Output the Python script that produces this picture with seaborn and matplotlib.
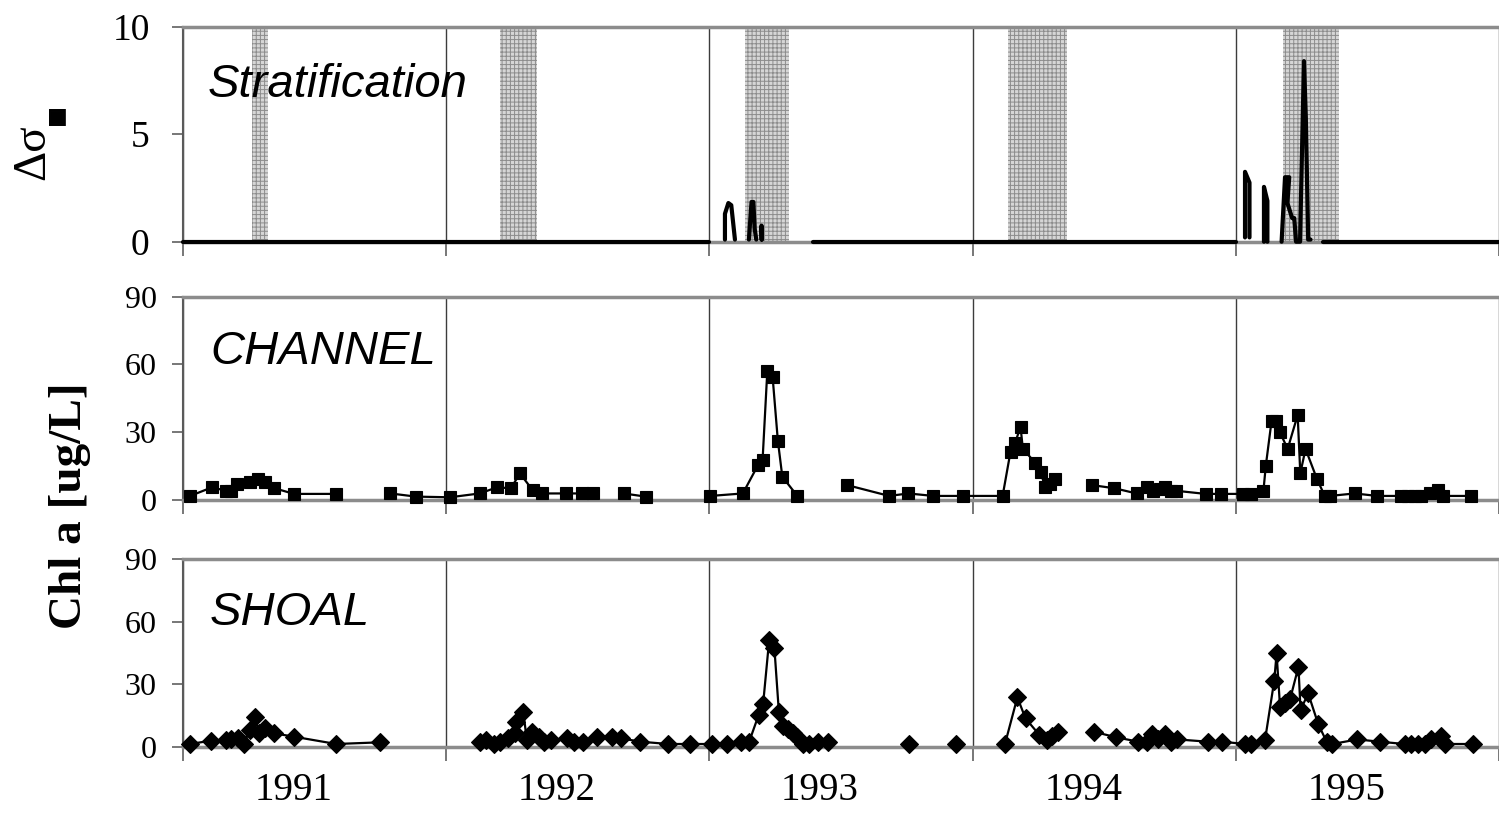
import numpy as np
import pandas as pd
import matplotlib
matplotlib.use("Agg")
import matplotlib.pyplot as plt
import seaborn as sns

sns.set_theme(style="ticks")
plt.rcParams['font.family'] = ['Liberation Serif', 'DejaVu Serif']
plt.rcParams['hatch.linewidth'] = 0.7
plt.rcParams['text.color'] = 'black'
plt.rcParams['xtick.labelcolor'] = 'black'
plt.rcParams['ytick.labelcolor'] = 'black'

NA = np.nan  # NA marks a break in a line

years = [1991, 1992, 1993, 1994, 1995]
year_labels = ["1991", "1992", "1993", "1994", "1995"]

# shaded stratification periods
band_start = [1991.261, 1992.205, 1993.135, 1994.136, 1995.180]
band_end = [1991.322, 1992.345, 1993.303, 1994.360, 1995.393]

# stratification (delta sigma)
strat_time = [1991.0, 1993.0, NA,
              1993.059, 1993.059, 1993.072, 1993.083, 1993.097, NA,
              1993.150, 1993.160, 1993.167, 1993.172, 1993.178, NA,
              1993.198, 1993.198, 1993.199, NA,
              1993.394, 1995.0, NA,
              1995.035, 1995.035, 1995.052, 1995.052, NA,
              1995.107, 1995.107, 1995.120, 1995.120, NA,
              1995.174, 1995.187, 1995.203, 1995.196, 1995.214, 1995.222, 1995.229,
              1995.244, 1995.259, 1995.266, 1995.275, 1995.284, NA,
              1995.333, 1996.0]
strat_dsig = [0, 0, NA,
              0.1, 1.3, 1.8, 1.7, 0.1, NA,
              0.1, 1.85, 1.85, 0.6, 0.1, NA,
              0.1, 0.75, 0.1, NA,
              0, 0, NA,
              0.2, 3.25, 2.75, 0.2, NA,
              0, 2.55, 1.9, 0, NA,
              0, 3.0, 3.0, 1.8, 1.1, 1.1, 0,
              0, 8.4, 5.8, 0.1, 0.1, NA,
              0, 0]

# chlorophyll a, channel station
channel_time = [1991.027, 1991.110, 1991.163, 1991.183, 1991.206, 1991.254, 1991.283, 1991.310,
                1991.347, 1991.422, 1991.582, NA,
                1991.788, 1991.885, 1992.014, 1992.127, 1992.193, 1992.246, 1992.280, 1992.328,
                1992.363, 1992.456, 1992.516, 1992.558, NA,
                1992.674, 1992.758, NA,
                1993.004, 1993.127, 1993.184, 1993.202, 1993.220, 1993.240, 1993.260, 1993.277,
                1993.334, NA,
                1993.523, 1993.683, 1993.756, 1993.851, 1993.964, 1994.114, 1994.144, 1994.161,
                1994.182, 1994.191, 1994.238, 1994.258, 1994.276, 1994.294, 1994.314, NA,
                1994.453, 1994.539, 1994.623, 1994.663, 1994.686, 1994.712, 1994.732, 1994.752,
                1994.772, 1994.885, 1994.942, 1995.027, 1995.057, 1995.105, 1995.114, 1995.136,
                1995.152, 1995.168, 1995.197, 1995.235, 1995.245, 1995.265, 1995.309, 1995.338,
                1995.357, 1995.452, 1995.537, 1995.629, 1995.654, 1995.679, 1995.705, 1995.736,
                1995.768, 1995.789, 1995.894]
channel_chl = [1.8, 5.6, 4.1, 4.1, 7.1, 8.1, 9.4, 8.1,
               5.2, 2.7, 2.7, NA,
               2.9, 1.5, 1.2, 2.9, 5.6, 5.2, 11.8, 4.4,
               2.9, 2.9, 2.9, 2.9, NA,
               2.9, 1.5, NA,
               1.8, 2.9, 15.3, 17.7, 57.2, 54.6, 26.3, 10.3,
               1.8, NA,
               6.6, 1.8, 2.9, 1.8, 1.8, 1.8, 21.4, 25.1,
               32.4, 22.6, 16.5, 12.5, 5.6, 7.1, 9.1, NA,
               6.6, 5.2, 2.9, 5.6, 4.1, 4.7, 5.6, 4.1,
               4.1, 2.7, 2.7, 2.7, 2.7, 4.1, 15.2, 35.1,
               35.1, 29.9, 22.6, 37.6, 11.8, 22.6, 9.1, 1.8,
               1.8, 2.9, 1.8, 1.8, 1.8, 1.8, 1.8, 3.2,
               4.4, 1.8, 1.8]

# chlorophyll a, shoal station
shoal_time = [1991.027, 1991.106, 1991.163, 1991.183, 1991.210, 1991.230, 1991.254, 1991.272,
              1991.289, 1991.310, 1991.347, 1991.422, 1991.582, 1991.748, NA,
              1992.127, 1992.153, 1992.180, 1992.206, 1992.233, 1992.260, 1992.266, 1992.293,
              1992.306, 1992.326, 1992.352, 1992.372, 1992.399, 1992.459, 1992.485, 1992.519,
              1992.572, 1992.631, 1992.665, 1992.738, 1992.844, 1992.928, 1993.010, 1993.067,
              1993.120, 1993.151, 1993.187, 1993.204, 1993.227, 1993.247, 1993.264, 1993.280,
              1993.297, 1993.317, 1993.334, 1993.357, 1993.377, 1993.414, 1993.450, NA,
              1993.760, NA,
              1993.937, NA,
              1994.123, 1994.170, 1994.201, 1994.254, 1994.284, 1994.303, 1994.323, NA,
              1994.460, 1994.546, 1994.630, 1994.663, 1994.683, 1994.705, 1994.732, 1994.752,
              1994.778, 1994.894, 1994.947, 1995.035, 1995.057, 1995.111, 1995.146, 1995.155,
              1995.168, 1995.187, 1995.206, 1995.238, 1995.246, 1995.275, 1995.313, 1995.345,
              1995.367, 1995.462, 1995.547, 1995.641, 1995.667, 1995.692, 1995.717, 1995.742,
              1995.780, 1995.793, 1995.900]
shoal_chl = [1.3, 2.9, 3.2, 3.5, 4.0, 1.3, 8.0, 14.4,
             6.4, 8.8, 6.4, 4.8, 1.3, 2.1, NA,
             2.1, 3.2, 1.3, 2.4, 4.0, 6.4, 12.0, 16.8,
             3.2, 7.2, 4.8, 2.4, 3.2, 4.0, 2.4, 2.4,
             4.8, 4.8, 4.0, 2.4, 1.3, 1.3, 1.3, 1.3,
             2.4, 2.4, 15.2, 20.5, 51.2, 47.2, 16.5, 10.1,
             8.3, 6.4, 4.8, 1.3, 1.3, 2.4, 2.4, NA,
             1.3, NA,
             1.3, NA,
             1.3, 23.7, 13.6, 5.6, 3.2, 5.1, 7.2, NA,
             7.2, 4.5, 2.4, 2.4, 6.1, 3.5, 6.1, 2.4,
             3.5, 2.4, 2.4, 1.3, 1.3, 3.2, 31.7, 44.8,
             19.2, 20.8, 22.7, 38.4, 17.6, 25.6, 10.9, 2.4,
             1.3, 3.5, 2.4, 1.3, 1.3, 1.3, 1.3, 3.5,
             5.1, 1.3, 1.3]


def segments(t, v):
    """Split a series into separately drawn pieces at the NA breaks."""
    df = pd.DataFrame({"time": t, "value": v})
    df["seg"] = df["value"].isna().cumsum()
    return df.dropna()


def style_axis(ax, yticks, ymax, labelsize, pad):
    ax.set_xlim(1991, 1995.985)
    ax.set_ylim(0, ymax)
    ax.set_xticks(years + [1996])
    ax.set_yticks(yticks)
    ax.grid(axis='x', which='major', color='#3c3c3c', lw=1.0)
    ax.set_axisbelow(True)
    ax.set_xlabel('')
    ax.set_ylabel('')
    ax.tick_params(axis='x', which='major', direction='out', length=10, width=1.2,
                   color='#606060', labelbottom=False)
    ax.tick_params(axis='y', direction='out', length=8, width=1.2, color='#606060',
                   labelsize=labelsize, pad=pad, labelcolor='black')
    for side in ['top', 'bottom']:
        ax.spines[side].set_color('#8c8c8c')
        ax.spines[side].set_linewidth(2.5)
    ax.spines['left'].set_color('#5a5a5a')
    ax.spines['left'].set_linewidth(1.5)
    ax.spines['right'].set_visible(False)


fig = plt.figure(figsize=(14.99, 8.15), dpi=100)
ax_top = fig.add_axes([0.1221, 0.7034, 0.8779, 0.2638])
ax_mid = fig.add_axes([0.1221, 0.3865, 0.8779, 0.2495])
ax_bot = fig.add_axes([0.1221, 0.0838, 0.8779, 0.2299])

# top panel: stratification
for s, e in zip(band_start, band_end):
    ax_top.axvspan(s, e, facecolor='#d6d6d6', edgecolor='#8c8c8c', hatch='++++',
                   lw=0, zorder=1)
sns.lineplot(data=segments(strat_time, strat_dsig), x='time', y='value', units='seg',
             estimator=None, sort=False, color='black', lw=3, ax=ax_top,
             clip_on=False, zorder=5)
style_axis(ax_top, [0, 5, 10], 10, 27, 16)
ax_top.text(0.019, 0.729, "Stratification", transform=ax_top.transAxes, fontsize=34,
            style='italic', family='Liberation Sans', va='center', color='black')

# middle panel: channel
sns.lineplot(data=segments(channel_time, channel_chl), x='time', y='value', units='seg',
             estimator=None, sort=False, color='black', lw=1.6, marker='s',
             markersize=8, markeredgecolor='black', markeredgewidth=0.8,
             ax=ax_mid, clip_on=False, zorder=5)
style_axis(ax_mid, [0, 30, 60, 90], 90, 23, 11)
ax_mid.text(0.0205, 0.728, "CHANNEL", transform=ax_mid.transAxes, fontsize=34,
            style='italic', family='Liberation Sans', va='center', color='black')

# bottom panel: shoal
sns.lineplot(data=segments(shoal_time, shoal_chl), x='time', y='value', units='seg',
             estimator=None, sort=False, color='black', lw=1.6, marker='D',
             markersize=9, markeredgecolor='black', markeredgewidth=0.8,
             ax=ax_bot, clip_on=False, zorder=5)
style_axis(ax_bot, [0, 30, 60, 90], 90, 23, 11)
ax_bot.text(0.0205, 0.713, "SHOAL", transform=ax_bot.transAxes, fontsize=34,
            style='italic', family='Liberation Sans', va='center', color='black')
ax_bot.set_xticks([y + 0.42 for y in years], minor=True)
ax_bot.set_xticklabels(year_labels, minor=True)
ax_bot.tick_params(axis='x', which='minor', length=0, pad=18, labelsize=28,
                   labelbottom=True, labelcolor='black')

# axis titles
fig.text(0.022, 0.8135, "Δσ", rotation=90, fontsize=34, ha='center', va='center')
fig.text(0.0367, 0.860, "■", rotation=90, fontsize=16, ha='center', va='center',
         family='DejaVu Sans')
fig.text(0.0467, 0.380, "Chl a [ug/L]", rotation=90, fontsize=34, fontweight='bold',
         ha='center', va='center')

fig.savefig("out.png", dpi=100)
